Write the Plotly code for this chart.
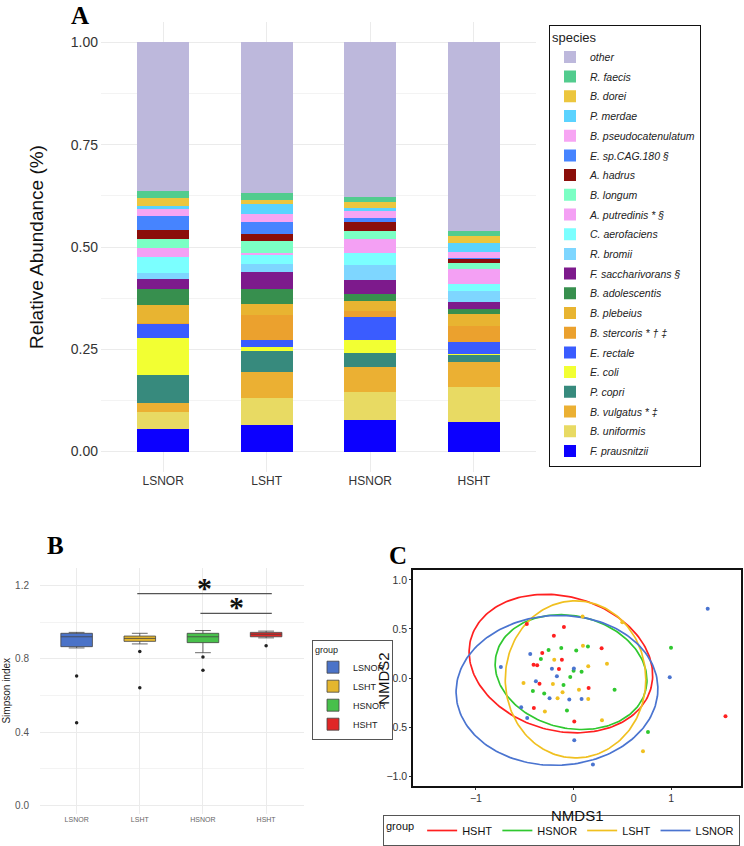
import numpy as np
import plotly.graph_objects as go

# ---------------- Panel A data ----------------
groups = ["LSNOR", "LSHT", "HSNOR", "HSHT"]
species = ["F. prausnitzii", "B. uniformis", "B. vulgatus * ‡", "P. copri", "E. coli",
           "E. rectale", "B. stercoris * † ‡", "B. plebeius", "B. adolescentis",
           "F. saccharivorans §", "R. bromii", "C. aerofaciens", "A. putredinis * §",
           "B. longum", "A. hadrus", "E. sp.CAG.180 §", "B. pseudocatenulatum",
           "P. merdae", "B. dorei", "R. faecis", "other"]
species_colors = ["#0C00FF", "#E8DA63", "#EBB033", "#378A7D", "#F2FF33",
                  "#3A5CFF", "#EBA12E", "#E8B431", "#378F4E",
                  "#7D1A8C", "#7ED6FF", "#7BFFFF", "#F4A0F4",
                  "#7BFFC4", "#8B0E0A", "#4684FF", "#F7A5F3",
                  "#5BD3FF", "#ECC63E", "#52CC8E", "#BDB8DC"]
lsnor_abund = [0.055, 0.041, 0.023, 0.067, 0.091, 0.035, 0.002, 0.045, 0.038, 0.024, 0.015,
               0.039, 0.022, 0.023, 0.021, 0.035, 0.018, 0.007, 0.019, 0.018, 0.362]
lsht_abund = [0.066, 0.066, 0.063, 0.051, 0.009, 0.018, 0.061, 0.026, 0.038, 0.041, 0.020,
              0.021, 0.006, 0.028, 0.018, 0.030, 0.019, 0.025, 0.009, 0.018, 0.368]
hsnor_abund = [0.078, 0.068, 0.061, 0.034, 0.032, 0.055, 0.016, 0.023, 0.019, 0.034, 0.036,
               0.030, 0.034, 0.018, 0.024, 0.009, 0.016, 0.009, 0.014, 0.013, 0.377]
hsht_abund = [0.072, 0.085, 0.063, 0.016, 0.003, 0.029, 0.040, 0.029, 0.012, 0.016, 0.028,
              0.017, 0.037, 0.013, 0.013, 0.001, 0.015, 0.020, 0.019, 0.010, 0.462]

# ---------------- Panel B data ----------------
box_groups = ["LSNOR", "LSHT", "HSNOR", "HSHT"]
box_colors = ["#4B73C8", "#E4B62F", "#48C04B", "#E02626"]
simp_q1 = [0.867, 0.896, 0.889, 0.921]
simp_median = [0.921, 0.912, 0.921, 0.935]
simp_q3 = [0.940, 0.925, 0.940, 0.945]
simp_low = [0.860, 0.882, 0.834, 0.915]
simp_high = [0.945, 0.940, 0.955, 0.952]
simp_outliers = [[0.707, 0.451], [0.841, 0.643], [0.810, 0.738], [0.872]]
sig_from = ["LSHT", "HSNOR"]
sig_to = ["HSHT", "HSHT"]
sig_y = [1.157, 1.049]

# ---------------- Panel C data ----------------
nmds_groups = ["HSHT", "HSNOR", "LSHT", "LSNOR"]
nmds_colors = ["#FF2020", "#2FC82F", "#F0C020", "#4A74D0"]
hsht_x = [-0.479, -0.099, -0.202, -0.321, 0.287, -0.410, -0.373, -0.120, -0.150, -0.349, 0.154, -0.407, 0.007, 1.556]
hsht_y = [0.549, 0.519, 0.431, 0.254, 0.302, 0.136, 0.129, 0.186, 0.092, -0.058, -0.102, -0.305, -0.444, -0.390]
hsnor_x = [-0.256, -0.126, 0.027, 0.147, -0.335, 0.000, 0.082, -0.034, -0.103, -0.417, -0.301, -0.068, 0.420, 0.998, 0.762]
hsnor_y = [0.285, 0.305, 0.281, 0.322, 0.193, 0.075, 0.064, 0.010, -0.071, -0.132, -0.159, -0.332, -0.119, 0.308, -0.549]
lsht_x = [0.092, 0.499, 0.096, -0.198, 0.150, 0.342, -0.513, -0.212, -0.113, 0.055, -0.164, 0.150, -0.294, 0.291, 0.711]
lsht_y = [0.627, 0.569, 0.329, 0.186, 0.119, 0.146, -0.051, -0.061, -0.146, -0.119, -0.207, -0.214, -0.342, -0.431, -0.746]
lsnor_x = [1.374, -0.444, -0.745, -0.222, 0.003, -0.171, -0.386, 0.985, -0.246, -0.044, 0.082, -0.537, -0.475, 0.007, 0.198]
lsnor_y = [0.705, 0.244, 0.112, 0.095, 0.098, 0.017, -0.034, 0.007, -0.207, -0.220, -0.214, -0.298, -0.407, -0.634, -0.881]
ell_cx = [-0.130, -0.026, 0.020, -0.170]
ell_cy = [0.147, 0.060, -0.014, -0.126]
ell_a = [0.956, 0.787, 0.720, 1.034]
ell_b = [0.684, 0.572, 0.800, 0.763]
ell_ang = [-15, -13, 0, 2]

W, H = 744, 846
def dx(p0, p1):
    return [p0 / W, p1 / W]
def dy(p_top, p_bot):
    return [1 - p_bot / H, 1 - p_top / H]

fig = go.Figure()

# ---- Panel A: stacked bars
group_vals = [lsnor_abund, lsht_abund, hsnor_abund, hsht_abund]
n_sp = len(species)
for i, sp in enumerate(species):
    fig.add_trace(go.Bar(
        x=groups, y=[gv[i] for gv in group_vals], name=sp,
        marker=dict(color=species_colors[i], line=dict(width=0)),
        width=0.5, xaxis="x", yaxis="y", legend="legend", legendgroup=sp,
        legendrank=100 + (n_sp - i),
    ))

# ---- Panel B: boxes
xpos = {g: i + 1 for i, g in enumerate(box_groups)}
for i, g in enumerate(box_groups):
    fig.add_trace(go.Box(
        x=[xpos[g]], q1=[simp_q1[i]], median=[simp_median[i]], q3=[simp_q3[i]],
        lowerfence=[simp_low[i]], upperfence=[simp_high[i]], name=g,
        fillcolor=box_colors[i], line=dict(color="#444444", width=0.8),
        width=0.5, boxpoints=False, xaxis="x2", yaxis="y2", legend="legend2",
    ))
    fig.add_trace(go.Scatter(
        x=[xpos[g]] * len(simp_outliers[i]), y=simp_outliers[i], mode="markers",
        marker=dict(color="#222222", size=3.5), showlegend=False,
        xaxis="x2", yaxis="y2", hoverinfo="skip",
    ))
for a, b, yv in zip(sig_from, sig_to, sig_y):
    fig.add_trace(go.Scatter(
        x=[xpos[a] - 0.04, xpos[b] + 0.09], y=[yv, yv], mode="lines",
        line=dict(color="#555555", width=1.3), showlegend=False,
        xaxis="x2", yaxis="y2", hoverinfo="skip",
    ))
    fig.add_annotation(
        x=(xpos[a] + xpos[b] + 0.05) / 2, y=yv, xref="x2", yref="y2",
        text="<b>*</b>", showarrow=False, yanchor="bottom", yshift=-12,
        font=dict(family="Liberation Serif", size=30, color="#111111"),
    )

# ---- Panel C: NMDS
pts = [(hsht_x, hsht_y), (hsnor_x, hsnor_y), (lsht_x, lsht_y), (lsnor_x, lsnor_y)]
t = np.linspace(0, 2 * np.pi, 200)
for i, g in enumerate(nmds_groups):
    th = np.deg2rad(ell_ang[i])
    ex = ell_cx[i] + ell_a[i] * np.cos(t) * np.cos(th) - ell_b[i] * np.sin(t) * np.sin(th)
    ey = ell_cy[i] + ell_a[i] * np.cos(t) * np.sin(th) + ell_b[i] * np.sin(t) * np.cos(th)
    fig.add_trace(go.Scatter(
        x=ex, y=ey, mode="lines", name=g, line=dict(color=nmds_colors[i], width=1.7),
        xaxis="x3", yaxis="y3", legend="legend3", hoverinfo="skip",
    ))
for i, g in enumerate(nmds_groups):
    fig.add_trace(go.Scatter(
        x=pts[i][0], y=pts[i][1], mode="markers", name=g,
        marker=dict(color=nmds_colors[i], size=4), showlegend=False,
        xaxis="x3", yaxis="y3",
    ))

grid = "#EBEBEB"
fig.update_layout(
    width=W, height=H, margin=dict(l=0, r=0, t=0, b=0), autosize=False,
    paper_bgcolor="white", plot_bgcolor="white",
    barmode="stack", boxmode="overlay",
    font=dict(family="Liberation Sans", color="#333333"),
    xaxis=dict(domain=dx(101, 536), anchor="y", type="category",
               categoryorder="array", categoryarray=groups, range=[-0.6, 3.6],
               showgrid=True, gridcolor=grid, gridwidth=1, ticks="",
               tickfont=dict(size=12, color="#333333"), zeroline=False, showline=False),
    yaxis=dict(domain=dy(22, 472), anchor="x", range=[-0.05, 1.05],
               tickvals=[0, 0.25, 0.5, 0.75, 1.0], tickformat=".2f",
               showgrid=True, gridcolor=grid, gridwidth=1, zeroline=False,
               minor=dict(dtick=0.125, tick0=0, showgrid=True, gridcolor="#F3F3F3"),
               tickfont=dict(size=14, color="#333333"), ticklabelstandoff=2,
               title=dict(text="Relative Abundance (%)", font=dict(size=19, color="#111111"), standoff=22)),
    xaxis2=dict(domain=dx(40, 304), anchor="y2", range=[0.42, 4.6],
                tickvals=[1, 2, 3, 4], ticktext=box_groups, showgrid=True, gridcolor=grid,
                zeroline=False, ticks="", tickfont=dict(size=7, color="#666666")),
    yaxis2=dict(domain=dy(568, 813.5), anchor="x2", range=[-0.045, 1.297],
                tickvals=[0, 0.4, 0.8, 1.2], tickformat=".1f", showgrid=True, gridcolor=grid,
                minor=dict(dtick=0.2, tick0=0, showgrid=True, gridcolor="#F3F3F3"),
                zeroline=False, tickfont=dict(size=10, color="#555555"), ticklabelstandoff=10,
                title=dict(text="Simpson index", font=dict(size=10, color="#222222"), standoff=2)),
    xaxis3=dict(domain=dx(413, 741), anchor="y3", range=[-1.645, 1.715],
                tickvals=[-1, 0, 1], showgrid=False, zeroline=False,
                showline=True, mirror=True, linecolor="#111111", linewidth=1.5,
                ticks="outside", ticklen=2, tickcolor="#333333",
                tickfont=dict(size=10.5, color="#333333")),
    yaxis3=dict(domain=dy(570, 786), anchor="x3", range=[-1.10, 1.10],
                tickvals=[-1, -0.5, 0, 0.5, 1], tickformat=".1f", showgrid=False, zeroline=False,
                showline=True, mirror=True, linecolor="#111111", linewidth=1.5,
                ticks="outside", ticklen=2, tickcolor="#333333",
                tickfont=dict(size=10.5, color="#333333")),
    legend=dict(x=549 / W, y=1 - 24.5 / H, xanchor="left", yanchor="top",
                traceorder="grouped", tracegroupgap=0.7,
                bordercolor="#111111", borderwidth=1, bgcolor="white",
                font=dict(size=10.5, style="italic", color="#222222"),
                title=dict(text="species", font=dict(size=13, style="normal", color="#222222"))),
    legend2=dict(x=312 / W, y=1 - 690 / H, xanchor="left", yanchor="middle",
                 bordercolor="#555555", borderwidth=1, bgcolor="white", itemwidth=30,
                 font=dict(size=9, color="#222222"),
                 title=dict(text="group", font=dict(size=9, color="#222222"))),
    legend3=dict(orientation="h", x=740 / W, y=0.0, xanchor="right", yanchor="bottom",
                 bordercolor="#555555", borderwidth=1, bgcolor="white", itemwidth=30,
                 font=dict(size=11, color="#111111"),
                 title=dict(text="group", side="left", font=dict(size=11, color="#111111"))),
)

# axis titles of panel C
fig.add_annotation(x=0.5, y=-0.088, xref="x3 domain", yref="y3 domain", text="NMDS1",
                   showarrow=False, xanchor="center", yanchor="top",
                   font=dict(size=15, color="#111111"))
fig.add_annotation(x=-0.06, y=0.5, xref="x3 domain", yref="y3 domain", text="NMDS2",
                   showarrow=False, xanchor="right", yanchor="middle", textangle=270,
                   font=dict(size=15, color="#111111"))

for letter, px, py in [("A", 80, 0), ("B", 55, 530), ("C", 398, 540)]:
    fig.add_annotation(x=px / W, y=1 - py / H, xref="paper", yref="paper", text="<b>" + letter + "</b>",
                       showarrow=False, xanchor="center", yanchor="top",
                       font=dict(family="Liberation Serif", size=25, color="#000000"))

fig.write_html("out.html")
